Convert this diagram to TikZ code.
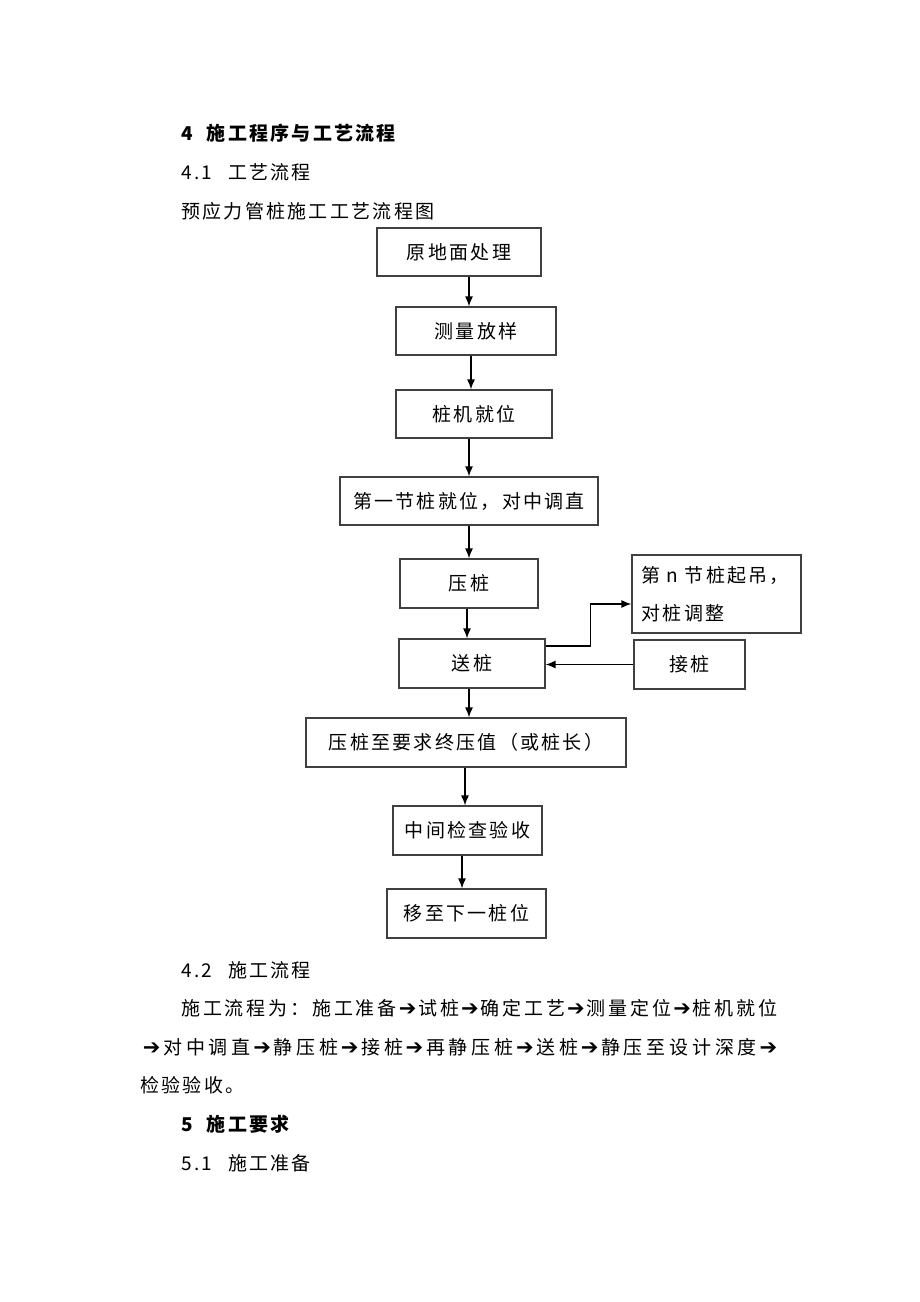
\documentclass[tikz,border=0pt]{standalone}
\usepackage{fontspec}
\usetikzlibrary{arrows.meta}
\newfontfamily\cjk[LetterSpace=12]{Noto Sans CJK SC}
\newfontfamily\cjkA[LetterSpace=15]{Noto Sans CJK SC}
\newfontfamily\cjkB[LetterSpace=20]{Noto Sans CJK SC}
\newfontfamily\arr{DejaVu Sans}
\newcommand{\ra}[1][21.5pt]{\makebox[#1]{\arr\fontsize{21}{24}\selectfont ➔}}
\begin{document}
\begin{tikzpicture}[x=1pt,y=-1pt,
  every node/.style={font=\cjk\fontsize{19}{23}\selectfont, text=black},
  box/.style={draw=black!75, line width=1.1pt, inner sep=0pt, align=center},
  txt/.style={anchor=west, inner sep=0pt},
  arw/.style={draw=black, line width=1.4pt, -{Latex[length=10pt,width=8pt]}}]
\useasboundingbox[fill=white] (0,0) rectangle (920,1302);
% heading texts
\node[txt,font=\cjk\bfseries\fontsize{19}{23}\selectfont] (t1) at (181,133) {4\hspace{14pt}施工程序与工艺流程};
\node[txt] (t2) at (181,172) {4.1\hspace{16pt}工艺流程};
\node[txt] (t3) at (181,211) {预应力管桩施工工艺流程图};
% boxes
\node[box, minimum width=164, minimum height=48] (b1) at (459,252) {原地面处理};
\node[box, minimum width=160, minimum height=48] (b2) at (476,331) {测量放样};
\node[box, minimum width=156, minimum height=48] (b3) at (474,414) {桩机就位};
\node[box, minimum width=258, minimum height=48] (b4) at (469,501) {第一节桩就位，对中调直};
\node[box, minimum width=138, minimum height=49] (b5) at (469,583.5) {压桩};
\node[box, minimum width=146, minimum height=49] (b6) at (472,663.5) {送桩};
\node[box, minimum width=169, minimum height=78, text width=150, align=left] (b7) at (716.5,594) {第 n 节桩起吊，\\[15pt]对桩调整};
\node[box, minimum width=111, minimum height=49] (b8) at (689.5,664.5) {接桩};
\node[box, minimum width=320, minimum height=49] (b9) at (466,742.5) {压桩至要求终压值（或桩长）};
\node[box, minimum width=149, minimum height=49] (b10) at (467.5,830.5) {中间检查验收};
\node[box, minimum width=159, minimum height=49] (b11) at (466.5,913.5) {移至下一桩位};
% arrows
\draw[arw] ([xshift=10pt]b1.south) -- ([xshift=10pt]b1.south |- b2.north);
\draw[arw] ([xshift=-5pt]b2.south) -- ([xshift=-5pt]b2.south |- b3.north);
\draw[arw] ([xshift=-5pt]b3.south) -- ([xshift=-5pt]b3.south |- b4.north);
\draw[arw] (b4.south) -- (b4.south |- b5.north);
\draw[arw] ([xshift=-2pt]b5.south) -- ([xshift=-2pt]b5.south |- b6.north);
\draw[arw] ([xshift=-3pt]b6.south) -- ([xshift=-3pt]b6.south |- b9.north);
\draw[arw] ([xshift=-1pt]b9.south) -- ([xshift=-1pt]b9.south |- b10.north);
\draw[arw] ([xshift=-5.5pt]b10.south) -- ([xshift=-5.5pt]b10.south |- b11.north);
\draw[arw] ([yshift=17.5pt]b6.east) -- ++(45,0) |- ([yshift=-10pt]b7.west);
\draw[arw] (b8.west) -- (b8.west -| b6.east);
% lower texts
\node[txt] (t4) at (181,970) {4.2\hspace{16pt}施工流程};
\node[txt,font=\cjkA\fontsize{19}{23}\selectfont] (p1) at (181,1008) {施工流程为：施工准备\ra 试桩\ra 确定工艺\ra 测量定位\ra 桩机就位};
\node[txt,font=\cjkB\fontsize{19}{23}\selectfont] (p2) at (140,1047) {\ra[23pt]对中调直\ra[23pt]静压桩\ra[23pt]接桩\ra[23pt]再静压桩\ra[23pt]送桩\ra[23pt]静压至设计深度\ra[23pt]};
\node[txt] (p3) at (140,1085) {检验验收。};
\node[txt,font=\cjk\bfseries\fontsize{19}{23}\selectfont] (t5) at (181,1124) {5\hspace{14pt}施工要求};
\node[txt] (t6) at (181,1163) {5.1\hspace{16pt}施工准备};
\end{tikzpicture}
\end{document}
